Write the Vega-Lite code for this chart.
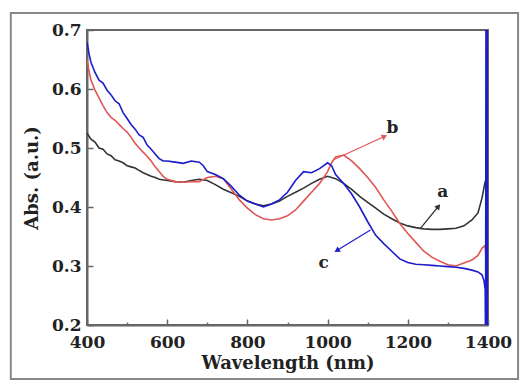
{
  "$schema": "https://vega.github.io/schema/vega-lite/v6.json",
  "width": 401,
  "height": 295,
  "autosize": "none",
  "padding": {"left": 87, "top": 30, "right": 32, "bottom": 56},
  "background": "white",
  "config": {
    "view": {"stroke": "#666666", "strokeWidth": 2},
    "font": "DejaVu Serif"
  },
  "datasets": {
    "one": [{}],
    "spectra": [
      {"wl": 400, "abs": 0.525, "s": "a"}, {"wl": 410, "abs": 0.515, "s": "a"}, {"wl": 420, "abs": 0.51, "s": "a"}, {"wl": 430, "abs": 0.5, "s": "a"}, {"wl": 440, "abs": 0.498, "s": "a"}, {"wl": 450, "abs": 0.49, "s": "a"}, {"wl": 460, "abs": 0.487, "s": "a"}, {"wl": 470, "abs": 0.48, "s": "a"}, {"wl": 480, "abs": 0.478, "s": "a"}, {"wl": 490, "abs": 0.475, "s": "a"}, {"wl": 500, "abs": 0.47, "s": "a"}, {"wl": 510, "abs": 0.468, "s": "a"}, {"wl": 520, "abs": 0.466, "s": "a"}, {"wl": 530, "abs": 0.462, "s": "a"}, {"wl": 540, "abs": 0.458, "s": "a"}, {"wl": 550, "abs": 0.455, "s": "a"}, {"wl": 560, "abs": 0.452, "s": "a"}, {"wl": 570, "abs": 0.45, "s": "a"}, {"wl": 580, "abs": 0.447, "s": "a"}, {"wl": 600, "abs": 0.445, "s": "a"}, {"wl": 620, "abs": 0.443, "s": "a"}, {"wl": 640, "abs": 0.442, "s": "a"}, {"wl": 660, "abs": 0.445, "s": "a"}, {"wl": 680, "abs": 0.447, "s": "a"}, {"wl": 700, "abs": 0.445, "s": "a"}, {"wl": 720, "abs": 0.438, "s": "a"}, {"wl": 740, "abs": 0.43, "s": "a"}, {"wl": 760, "abs": 0.424, "s": "a"}, {"wl": 780, "abs": 0.418, "s": "a"}, {"wl": 800, "abs": 0.41, "s": "a"}, {"wl": 820, "abs": 0.405, "s": "a"}, {"wl": 840, "abs": 0.402, "s": "a"}, {"wl": 860, "abs": 0.405, "s": "a"}, {"wl": 880, "abs": 0.41, "s": "a"}, {"wl": 900, "abs": 0.418, "s": "a"}, {"wl": 920, "abs": 0.425, "s": "a"}, {"wl": 940, "abs": 0.432, "s": "a"}, {"wl": 960, "abs": 0.44, "s": "a"}, {"wl": 980, "abs": 0.447, "s": "a"}, {"wl": 1000, "abs": 0.452, "s": "a"}, {"wl": 1020, "abs": 0.448, "s": "a"}, {"wl": 1040, "abs": 0.44, "s": "a"}, {"wl": 1060, "abs": 0.43, "s": "a"}, {"wl": 1080, "abs": 0.418, "s": "a"}, {"wl": 1100, "abs": 0.408, "s": "a"}, {"wl": 1120, "abs": 0.398, "s": "a"}, {"wl": 1140, "abs": 0.388, "s": "a"}, {"wl": 1160, "abs": 0.38, "s": "a"}, {"wl": 1180, "abs": 0.373, "s": "a"}, {"wl": 1200, "abs": 0.368, "s": "a"}, {"wl": 1220, "abs": 0.365, "s": "a"}, {"wl": 1240, "abs": 0.363, "s": "a"}, {"wl": 1260, "abs": 0.362, "s": "a"}, {"wl": 1280, "abs": 0.362, "s": "a"}, {"wl": 1300, "abs": 0.363, "s": "a"}, {"wl": 1320, "abs": 0.364, "s": "a"}, {"wl": 1340, "abs": 0.368, "s": "a"}, {"wl": 1360, "abs": 0.378, "s": "a"}, {"wl": 1375, "abs": 0.39, "s": "a"}, {"wl": 1385, "abs": 0.415, "s": "a"}, {"wl": 1392, "abs": 0.44, "s": "a"}, {"wl": 1396, "abs": 0.45, "s": "a"},

      {"wl": 400, "abs": 0.65, "s": "b"}, {"wl": 405, "abs": 0.63, "s": "b"}, {"wl": 410, "abs": 0.615, "s": "b"}, {"wl": 420, "abs": 0.598, "s": "b"}, {"wl": 430, "abs": 0.585, "s": "b"}, {"wl": 440, "abs": 0.572, "s": "b"}, {"wl": 450, "abs": 0.56, "s": "b"}, {"wl": 460, "abs": 0.552, "s": "b"}, {"wl": 470, "abs": 0.547, "s": "b"}, {"wl": 480, "abs": 0.54, "s": "b"}, {"wl": 490, "abs": 0.533, "s": "b"}, {"wl": 500, "abs": 0.527, "s": "b"}, {"wl": 510, "abs": 0.518, "s": "b"}, {"wl": 520, "abs": 0.508, "s": "b"}, {"wl": 530, "abs": 0.5, "s": "b"}, {"wl": 540, "abs": 0.493, "s": "b"}, {"wl": 550, "abs": 0.486, "s": "b"}, {"wl": 560, "abs": 0.478, "s": "b"}, {"wl": 570, "abs": 0.468, "s": "b"}, {"wl": 580, "abs": 0.46, "s": "b"}, {"wl": 590, "abs": 0.452, "s": "b"}, {"wl": 600, "abs": 0.447, "s": "b"}, {"wl": 620, "abs": 0.443, "s": "b"}, {"wl": 640, "abs": 0.442, "s": "b"}, {"wl": 660, "abs": 0.443, "s": "b"}, {"wl": 680, "abs": 0.443, "s": "b"}, {"wl": 700, "abs": 0.45, "s": "b"}, {"wl": 720, "abs": 0.452, "s": "b"}, {"wl": 740, "abs": 0.448, "s": "b"}, {"wl": 760, "abs": 0.43, "s": "b"}, {"wl": 780, "abs": 0.412, "s": "b"}, {"wl": 800, "abs": 0.398, "s": "b"}, {"wl": 820, "abs": 0.387, "s": "b"}, {"wl": 840, "abs": 0.38, "s": "b"}, {"wl": 860, "abs": 0.378, "s": "b"}, {"wl": 880, "abs": 0.38, "s": "b"}, {"wl": 900, "abs": 0.385, "s": "b"}, {"wl": 920, "abs": 0.395, "s": "b"}, {"wl": 940, "abs": 0.41, "s": "b"}, {"wl": 960, "abs": 0.425, "s": "b"}, {"wl": 980, "abs": 0.44, "s": "b"}, {"wl": 1000, "abs": 0.46, "s": "b"}, {"wl": 1010, "abs": 0.475, "s": "b"}, {"wl": 1020, "abs": 0.485, "s": "b"}, {"wl": 1040, "abs": 0.488, "s": "b"}, {"wl": 1060, "abs": 0.478, "s": "b"}, {"wl": 1080, "abs": 0.465, "s": "b"}, {"wl": 1100, "abs": 0.45, "s": "b"}, {"wl": 1120, "abs": 0.433, "s": "b"}, {"wl": 1140, "abs": 0.412, "s": "b"}, {"wl": 1160, "abs": 0.393, "s": "b"}, {"wl": 1180, "abs": 0.372, "s": "b"}, {"wl": 1200, "abs": 0.355, "s": "b"}, {"wl": 1220, "abs": 0.34, "s": "b"}, {"wl": 1240, "abs": 0.325, "s": "b"}, {"wl": 1260, "abs": 0.315, "s": "b"}, {"wl": 1280, "abs": 0.308, "s": "b"}, {"wl": 1300, "abs": 0.302, "s": "b"}, {"wl": 1320, "abs": 0.3, "s": "b"}, {"wl": 1340, "abs": 0.305, "s": "b"}, {"wl": 1360, "abs": 0.31, "s": "b"}, {"wl": 1375, "abs": 0.318, "s": "b"}, {"wl": 1385, "abs": 0.33, "s": "b"}, {"wl": 1393, "abs": 0.335, "s": "b"}, {"wl": 1396, "abs": 0.3, "s": "b"},

      {"wl": 400, "abs": 0.68, "s": "c"}, {"wl": 405, "abs": 0.66, "s": "c"}, {"wl": 410, "abs": 0.645, "s": "c"}, {"wl": 420, "abs": 0.628, "s": "c"}, {"wl": 430, "abs": 0.615, "s": "c"}, {"wl": 440, "abs": 0.61, "s": "c"}, {"wl": 450, "abs": 0.598, "s": "c"}, {"wl": 460, "abs": 0.59, "s": "c"}, {"wl": 470, "abs": 0.58, "s": "c"}, {"wl": 480, "abs": 0.575, "s": "c"}, {"wl": 490, "abs": 0.56, "s": "c"}, {"wl": 500, "abs": 0.55, "s": "c"}, {"wl": 510, "abs": 0.54, "s": "c"}, {"wl": 520, "abs": 0.532, "s": "c"}, {"wl": 530, "abs": 0.522, "s": "c"}, {"wl": 540, "abs": 0.518, "s": "c"}, {"wl": 550, "abs": 0.505, "s": "c"}, {"wl": 560, "abs": 0.498, "s": "c"}, {"wl": 570, "abs": 0.49, "s": "c"}, {"wl": 580, "abs": 0.482, "s": "c"}, {"wl": 590, "abs": 0.478, "s": "c"}, {"wl": 600, "abs": 0.478, "s": "c"}, {"wl": 620, "abs": 0.476, "s": "c"}, {"wl": 640, "abs": 0.474, "s": "c"}, {"wl": 660, "abs": 0.478, "s": "c"}, {"wl": 680, "abs": 0.476, "s": "c"}, {"wl": 690, "abs": 0.47, "s": "c"}, {"wl": 700, "abs": 0.46, "s": "c"}, {"wl": 720, "abs": 0.455, "s": "c"}, {"wl": 740, "abs": 0.448, "s": "c"}, {"wl": 760, "abs": 0.435, "s": "c"}, {"wl": 780, "abs": 0.42, "s": "c"}, {"wl": 800, "abs": 0.41, "s": "c"}, {"wl": 820, "abs": 0.405, "s": "c"}, {"wl": 840, "abs": 0.4, "s": "c"}, {"wl": 860, "abs": 0.405, "s": "c"}, {"wl": 880, "abs": 0.412, "s": "c"}, {"wl": 900, "abs": 0.425, "s": "c"}, {"wl": 920, "abs": 0.445, "s": "c"}, {"wl": 940, "abs": 0.46, "s": "c"}, {"wl": 960, "abs": 0.458, "s": "c"}, {"wl": 980, "abs": 0.465, "s": "c"}, {"wl": 1000, "abs": 0.475, "s": "c"}, {"wl": 1010, "abs": 0.47, "s": "c"}, {"wl": 1020, "abs": 0.455, "s": "c"}, {"wl": 1040, "abs": 0.44, "s": "c"}, {"wl": 1060, "abs": 0.422, "s": "c"}, {"wl": 1080, "abs": 0.4, "s": "c"}, {"wl": 1100, "abs": 0.375, "s": "c"}, {"wl": 1120, "abs": 0.352, "s": "c"}, {"wl": 1140, "abs": 0.338, "s": "c"}, {"wl": 1160, "abs": 0.325, "s": "c"}, {"wl": 1180, "abs": 0.312, "s": "c"}, {"wl": 1200, "abs": 0.306, "s": "c"}, {"wl": 1220, "abs": 0.303, "s": "c"}, {"wl": 1240, "abs": 0.302, "s": "c"}, {"wl": 1260, "abs": 0.301, "s": "c"}, {"wl": 1280, "abs": 0.3, "s": "c"}, {"wl": 1300, "abs": 0.299, "s": "c"}, {"wl": 1320, "abs": 0.298, "s": "c"}, {"wl": 1340, "abs": 0.296, "s": "c"}, {"wl": 1360, "abs": 0.293, "s": "c"}, {"wl": 1375, "abs": 0.29, "s": "c"}, {"wl": 1385, "abs": 0.285, "s": "c"}, {"wl": 1390, "abs": 0.275, "s": "c"}, {"wl": 1393, "abs": 0.26, "s": "c"}, {"wl": 1394, "abs": 0.15, "s": "c"}, {"wl": 1395, "abs": 0.75, "s": "c"}, {"wl": 1396, "abs": 0.15, "s": "c"}, {"wl": 1397, "abs": 0.75, "s": "c"}, {"wl": 1398, "abs": 0.15, "s": "c"}, {"wl": 1399, "abs": 0.75, "s": "c"}, {"wl": 1400, "abs": 0.2, "s": "c"}
    ]
  },
  "layer": [
    {
      "data": {"name": "one"},
      "mark": {"type": "rect", "filled": false, "stroke": "#888888", "strokeWidth": 2, "clip": false},
      "encoding": {
        "x": {"datum": 210, "type": "quantitative"},
        "x2": {"datum": 1475},
        "y": {"datum": 0.7288, "type": "quantitative"},
        "y2": {"datum": 0.1085}
      }
    },
    {
      "data": {"name": "spectra"},
      "mark": {"type": "line", "strokeWidth": 1.6, "clip": true},
      "encoding": {
        "x": {
          "field": "wl", "type": "quantitative",
          "scale": {"domain": [400, 1400], "nice": false, "zero": false},
          "axis": {
            "title": "Wavelength (nm)",
            "values": [400, 500, 600, 700, 800, 900, 1000, 1100, 1200, 1300, 1400],
            "format": "d",
            "labelExpr": "datum.value % 200 == 0 ? datum.label : ''",
            "tickSize": {"condition": {"test": "datum.value % 200 == 0", "value": -6}, "value": -3},
            "tickColor": "#666666", "tickWidth": 1.5,
            "domainColor": "#666666", "domainWidth": 2,
            "grid": false, "labelFlush": false,
            "labelFont": "DejaVu Serif", "labelFontWeight": "bold", "labelFontSize": 17, "labelColor": "#222222",
            "labelPadding": 15,
            "titleFont": "DejaVu Serif", "titleFontWeight": "bold", "titleFontSize": 18, "titleColor": "#222222",
            "titlePadding": 4
          }
        },
        "y": {
          "field": "abs", "type": "quantitative",
          "scale": {"domain": [0.2, 0.7], "nice": false, "zero": false},
          "axis": {
            "title": "Abs. (a.u.)",
            "values": [0.2, 0.25, 0.3, 0.35, 0.4, 0.45, 0.5, 0.55, 0.6, 0.65, 0.7],
            "format": ".1f",
            "labelExpr": "round(datum.value * 100) % 10 == 0 ? datum.label : ''",
            "tickSize": {"condition": {"test": "round(datum.value * 100) % 10 == 0", "value": -6}, "value": -3},
            "tickColor": "#666666", "tickWidth": 1.5,
            "domainColor": "#666666", "domainWidth": 2,
            "grid": false,
            "labelFont": "DejaVu Serif", "labelFontWeight": "bold", "labelFontSize": 17, "labelColor": "#222222",
            "labelPadding": 12,
            "titleFont": "DejaVu Serif", "titleFontWeight": "bold", "titleFontSize": 18, "titleColor": "#222222",
            "titlePadding": 10
          }
        },
        "color": {
          "field": "s", "type": "nominal", "legend": null,
          "scale": {"domain": ["a", "b", "c"], "range": ["#333333", "#e05555", "#1c1ccc"]}
        }
      }
    },
    {
      "data": {"name": "one"},
      "mark": {"type": "rule", "color": "#e05555", "strokeWidth": 1.2},
      "encoding": {"x": {"datum": 1015, "type": "quantitative"}, "x2": {"datum": 1140}, "y": {"datum": 0.48, "type": "quantitative"}, "y2": {"datum": 0.519}}
    },
    {
      "data": {"name": "one"},
      "mark": {"type": "point", "shape": "triangle", "filled": true, "color": "#e05555", "size": 40, "angle": 65, "opacity": 1},
      "encoding": {"x": {"datum": 1140, "type": "quantitative"}, "y": {"datum": 0.519, "type": "quantitative"}}
    },
    {
      "data": {"name": "one"},
      "mark": {"type": "rule", "color": "#333333", "strokeWidth": 1.2},
      "encoding": {"x": {"datum": 1232, "type": "quantitative"}, "x2": {"datum": 1275}, "y": {"datum": 0.364, "type": "quantitative"}, "y2": {"datum": 0.4}}
    },
    {
      "data": {"name": "one"},
      "mark": {"type": "point", "shape": "triangle", "filled": true, "color": "#333333", "size": 40, "angle": 39, "opacity": 1},
      "encoding": {"x": {"datum": 1275, "type": "quantitative"}, "y": {"datum": 0.4, "type": "quantitative"}}
    },
    {
      "data": {"name": "one"},
      "mark": {"type": "rule", "color": "#1c1ccc", "strokeWidth": 1.2},
      "encoding": {"x": {"datum": 1107, "type": "quantitative"}, "x2": {"datum": 1025}, "y": {"datum": 0.361, "type": "quantitative"}, "y2": {"datum": 0.327}}
    },
    {
      "data": {"name": "one"},
      "mark": {"type": "point", "shape": "triangle", "filled": true, "color": "#1c1ccc", "size": 40, "angle": 239, "opacity": 1},
      "encoding": {"x": {"datum": 1025, "type": "quantitative"}, "y": {"datum": 0.327, "type": "quantitative"}}
    },
    {
      "data": {"name": "one"},
      "mark": {"type": "text", "text": "b", "font": "DejaVu Serif", "fontWeight": "bold", "fontSize": 17, "color": "#222222"},
      "encoding": {"x": {"datum": 1162, "type": "quantitative"}, "y": {"datum": 0.534, "type": "quantitative"}}
    },
    {
      "data": {"name": "one"},
      "mark": {"type": "text", "text": "a", "font": "DejaVu Serif", "fontWeight": "bold", "fontSize": 17, "color": "#222222"},
      "encoding": {"x": {"datum": 1287, "type": "quantitative"}, "y": {"datum": 0.425, "type": "quantitative"}}
    },
    {
      "data": {"name": "one"},
      "mark": {"type": "text", "text": "c", "font": "DejaVu Serif", "fontWeight": "bold", "fontSize": 17, "color": "#222222"},
      "encoding": {"x": {"datum": 990, "type": "quantitative"}, "y": {"datum": 0.305, "type": "quantitative"}}
    }
  ]
}
